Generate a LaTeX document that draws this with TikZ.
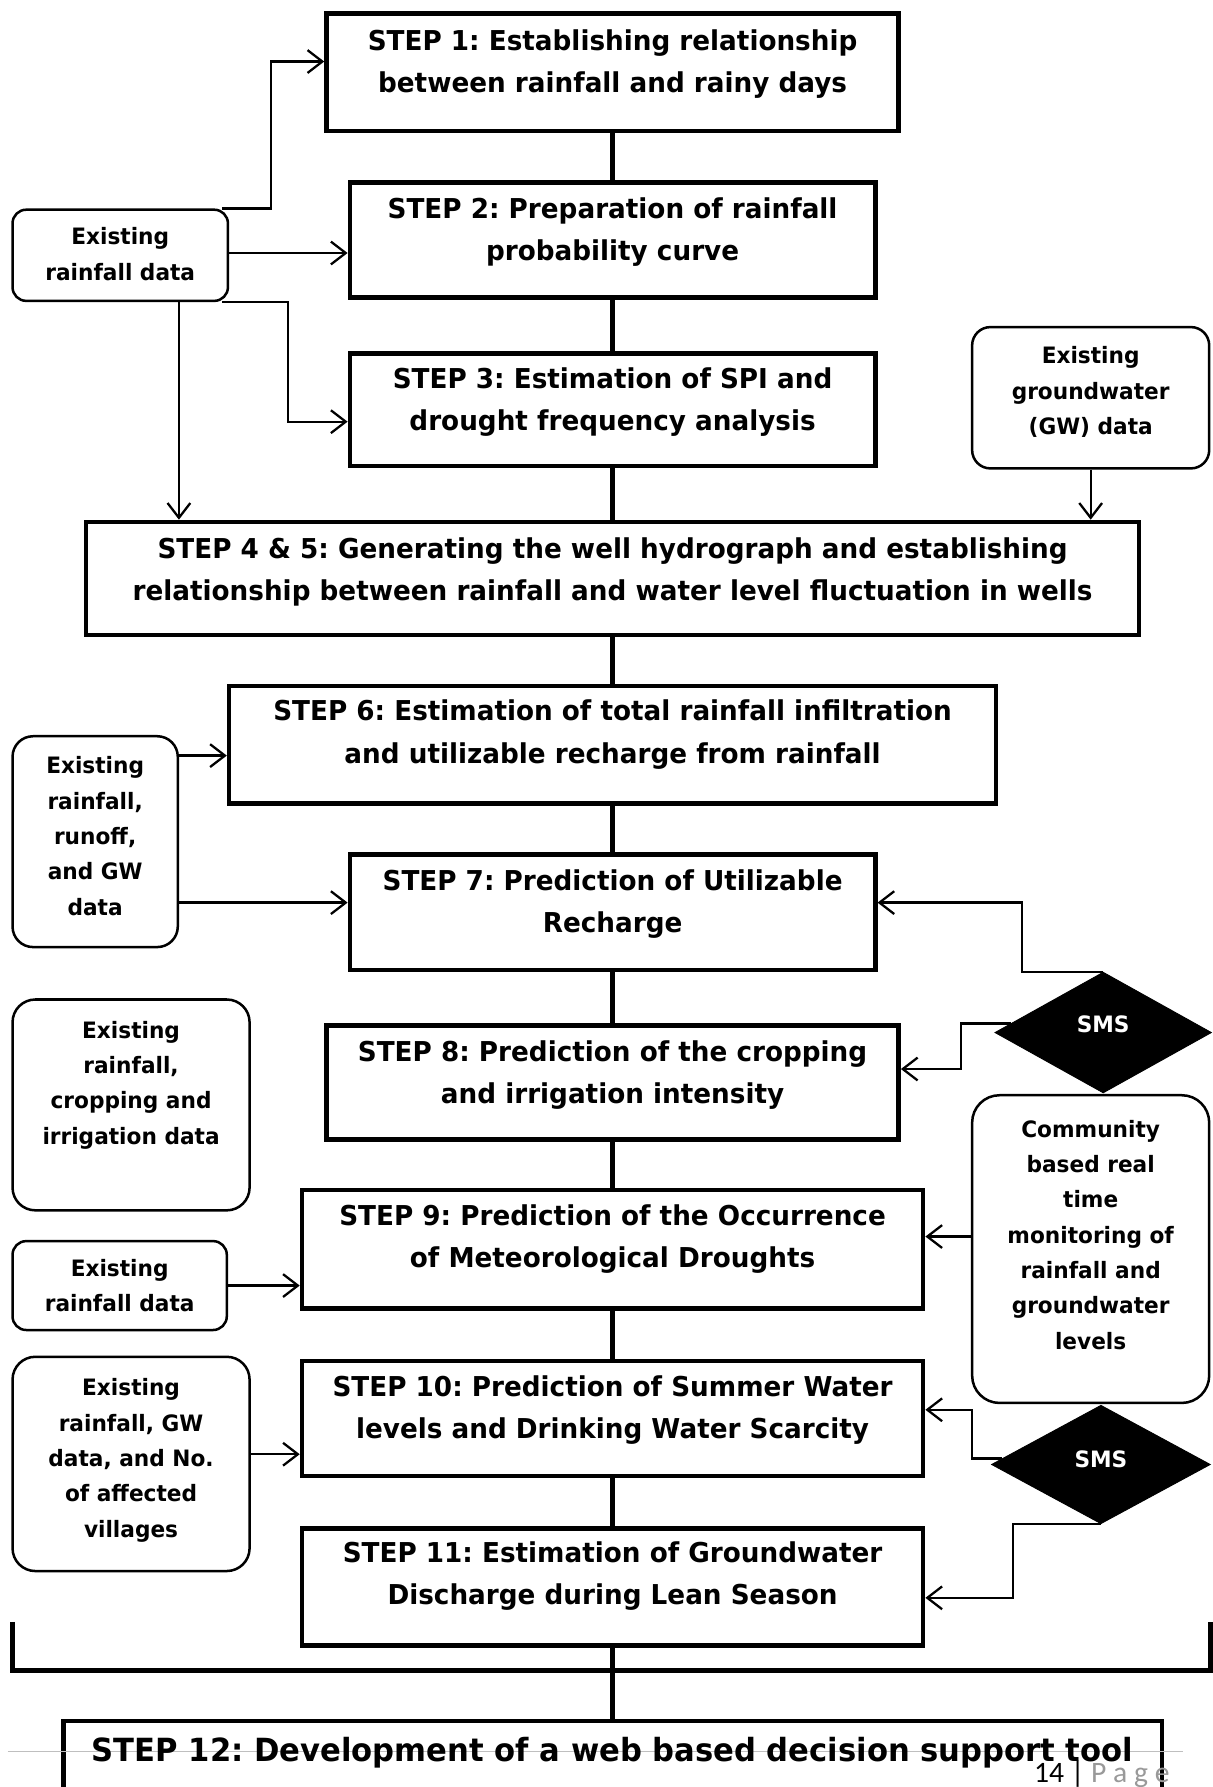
\documentclass[tikz,border=0pt]{standalone}
\usepackage{fontspec}
\setmainfont{DejaVu Sans}[FakeStretch=0.96]
\newfontfamily\footfont{Carlito}
\usetikzlibrary{arrows.meta,shapes.geometric,calc}
\frenchspacing
\begin{document}
\frenchspacing
\begin{tikzpicture}[x=0.5pt,y=-0.5pt,
  stepbox/.style={draw,line width=2pt,rectangle,inner sep=0pt,fill=white},
  steptext/.style={font=\fontsize{12}{18.5}\selectfont\bfseries,align=center,inner sep=0pt},
  databox/.style={draw,line width=1.1pt,rounded corners=6pt,inner sep=0pt},
  datatext/.style={font=\fontsize{9.9}{15.5}\selectfont\bfseries,align=center,inner sep=0pt},
  smsbox/.style={diamond,fill=black,draw=black,inner sep=0pt},
  smstext/.style={text=white,font=\fontsize{9.9}{11}\selectfont\bfseries,inner sep=0pt},
  flow/.style={line width=2pt},
  arr/.style={line width=1pt,-{Straight Barb[length=6.5pt,width=10pt,line width=1pt]}}
]
\useasboundingbox[fill=white] (0,0) rectangle (1064,1568);

% step boxes
\node[stepbox,minimum width=251pt,minimum height=51.5pt] (s1) at (537.5,63.5) {};
\node[stepbox,minimum width=230.5pt,minimum height=50.5pt] (s2) at (537.5,210.5) {};
\node[stepbox,minimum width=230.5pt,minimum height=49.5pt] (s3) at (537.5,359.5) {};
\node[stepbox,minimum width=462pt,minimum height=49.5pt] (s45) at (537.5,507.5) {};
\node[stepbox,minimum width=336.5pt,minimum height=51.5pt] (s6) at (537.5,653.5) {};
\node[stepbox,minimum width=230.5pt,minimum height=50.5pt] (s7) at (537.5,800.5) {};
\node[stepbox,minimum width=251pt,minimum height=50pt] (s8) at (537.5,950) {};
\node[stepbox,minimum width=272.5pt,minimum height=52pt] (s9) at (537.5,1096) {};
\node[stepbox,minimum width=272.5pt,minimum height=50.5pt] (s10) at (537.5,1244.5) {};
\node[stepbox,minimum width=272.5pt,minimum height=51.5pt] (s11) at (537.5,1392.5) {};
\node[stepbox,minimum width=482pt,minimum height=50pt] (s12) at (537.5,1560) {};

% step texts
\node[steptext] (t1) at (537.5,56) {STEP 1: Establishing relationship\\between rainfall and rainy days};
\node[steptext] (t2) at (537.5,203.5) {STEP 2: Preparation of rainfall\\probability curve};
\node[steptext] (t3) at (537.5,352.5) {STEP 3: Estimation of SPI and\\drought frequency analysis};
\node[steptext] (t45) at (537.5,501.5) {STEP 4 \& 5: Generating the well hydrograph and establishing\\relationship between rainfall and water level fluctuation in wells};
\node[steptext] (t6) at (537.5,644.5) {STEP 6: Estimation of total rainfall infiltration\\and utilizable recharge from rainfall};
\node[steptext] (t7) at (537.5,793.5) {STEP 7: Prediction of Utilizable\\Recharge};
\node[steptext] (t8) at (537.5,943.5) {STEP 8: Prediction of the cropping\\and irrigation intensity};
\node[steptext] (t9) at (537.5,1087.5) {STEP 9: Prediction of the Occurrence\\of Meteorological Droughts};
\node[steptext] (t10) at (537.5,1237.5) {STEP 10: Prediction of Summer Water\\levels and Drinking Water Scarcity};
\node[steptext] (t11) at (537.5,1383) {STEP 11: Estimation of Groundwater\\Discharge during Lean Season};

% flow line
\draw[flow] (s1.south) -- (s2.north);
\draw[flow] (s2.south) -- (s3.north);
\draw[flow] (s3.south) -- (s45.north);
\draw[flow] (s45.south) -- (s6.north);
\draw[flow] (s6.south) -- (s7.north);
\draw[flow] (s7.south) -- (s8.north);
\draw[flow] (s8.south) -- (s9.north);
\draw[flow] (s9.south) -- (s10.north);
\draw[flow] (s10.south) -- (s11.north);
\draw[flow] (s11.south) -- (s12.north);
\draw[flow] (11,1423) -- (11,1466) -- (1062,1466) -- (1062,1423);

% data boxes
\node[databox,minimum width=94.5pt,minimum height=40pt] (r1) at (105.5,224) {};
\node[datatext] (r1t) at (105.5,223) {Existing\\rainfall data};
\node[databox,rounded corners=8pt,minimum width=104pt,minimum height=62pt] (gw) at (957,349) {};
\node[datatext] (gwt) at (957,344) {Existing\\groundwater\\(GW) data};
\node[databox,rounded corners=9pt,minimum width=72.5pt,minimum height=92.5pt] (ro) at (83.5,738.5) {};
\node[datatext] (rot) at (83.5,733.5) {Existing\\rainfall,\\runoff,\\and GW\\data};
\node[databox,rounded corners=10pt,minimum width=104pt,minimum height=92.5pt] (cr) at (115,969.5) {};
\node[datatext] (crt) at (115,952) {Existing\\rainfall,\\cropping and\\irrigation data};
\node[databox,rounded corners=12pt,minimum width=104pt,minimum height=135pt] (cm) at (957,1096) {};
\node[datatext] (cmt) at (957,1083.5) {Community\\based real\\time\\monitoring of\\rainfall and\\groundwater\\levels};
\node[databox,minimum width=94pt,minimum height=39pt] (r2) at (105,1128) {};
\node[datatext] (r2t) at (105,1128) {Existing\\rainfall data};
\node[databox,rounded corners=10pt,minimum width=104pt,minimum height=94pt] (vl) at (115,1284.5) {};
\node[datatext] (vlt) at (115,1281.5) {Existing\\rainfall, GW\\data, and No.\\of affected\\villages};

% SMS diamonds
\node[smsbox,minimum width=95pt,minimum height=53pt] (d1) at (968,906) {};
\node[smstext] (d1t) at (968,899) {SMS};
\node[smsbox,minimum width=96pt,minimum height=52pt] (d2) at (966,1285) {};
\node[smstext] (d2t) at (966,1280) {SMS};

% arrows
\draw[arr] ([xshift=-3pt]r1.north east) -| (238,54) -- (s1.west |- 238,54);
\draw[arr] (r1.east |- 0,222) -- (s2.west |- 0,222);
\draw[arr] ([xshift=-3pt]r1.south east) -| (253,370) -- (s3.west |- 0,370);
\draw[arr] (r1.south -| 157,0) -- (s45.north -| 157,0);
\draw[arr] (gw.south) -- (s45.north -| gw.south);
\draw[arr] (ro.east |- 0,663) -- (s6.west |- 0,663);
\draw[arr] (ro.east |- 0,792) -- (s7.west |- 0,792);
\draw[arr] (d1.north) -| (897,792) -- (s7.east |- 0,792);
\draw[arr] ($(d1.west)!0.15!(d1.north)$) -| (843,938) -- (s8.east |- 0,938);
\draw[arr] (cm.west |- 0,1085) -- (s9.east |- 0,1085);
\draw[arr] (r2.east) -- (s9.west |- r2.east);
\draw[arr] (vl.east |- 0,1276) -- (s10.west |- 0,1276);
\draw[arr] ($(d2.west)!0.1!(d2.north)$) -| (853,1237) -- (s10.east |- 0,1237);
\draw[arr] (d2.south) -| (889,1402) -- (s11.east |- 0,1402);

% footer
\draw[black!25,line width=0.6pt] (7,1537) -- (1038,1537);
\node[steptext,font=\fontsize{14}{16}\selectfont\bfseries] (t12) at (537.5,1538) {STEP 12: Development of a web based decision support tool};
\node[anchor=base west,inner sep=0pt,font=\footfont\fontsize{13}{15}\selectfont] (pg) at (907,1564) {14 | \textcolor{black!40}{P a g e}};
\end{tikzpicture}
\end{document}
